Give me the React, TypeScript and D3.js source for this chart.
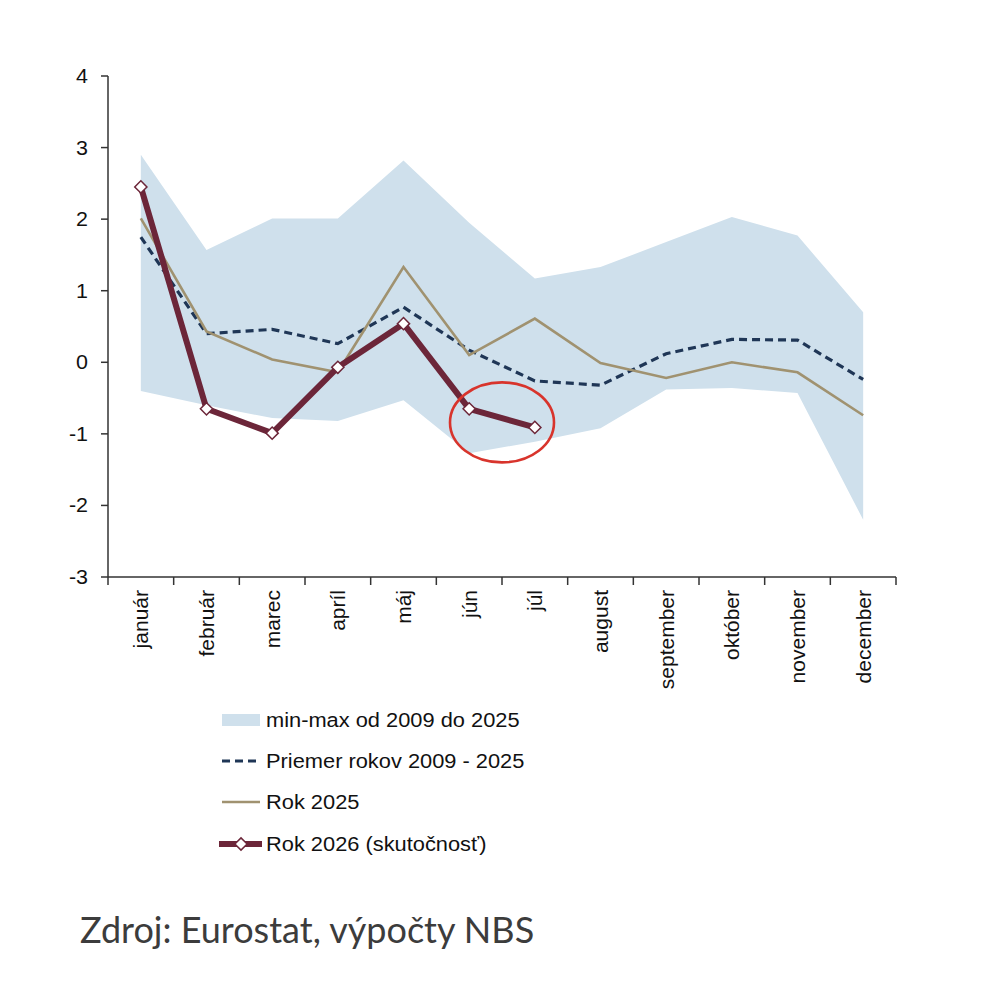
import * as d3 from 'd3'

const months = ['január', 'február', 'marec', 'apríl', 'máj', 'jún', 'júl', 'august', 'september', 'október', 'november', 'december']
const bandMax = [2.9, 1.57, 2.01, 2.01, 2.82, 1.95, 1.17, 1.33, 1.68, 2.03, 1.77, 0.7]
const bandMin = [-0.4, -0.6, -0.78, -0.82, -0.53, -1.27, -1.11, -0.92, -0.38, -0.36, -0.43, -2.2]
const average = [1.75, 0.4, 0.46, 0.26, 0.77, 0.17, -0.26, -0.32, 0.12, 0.32, 0.31, -0.24]
const year2025 = [2.01, 0.43, 0.04, -0.14, 1.33, 0.1, 0.61, -0.01, -0.22, 0.0, -0.14, -0.74]
const year2026 = [2.45, -0.65, -0.99, -0.07, 0.54, -0.65, -0.91]
const yTicks = [-3, -2, -1, 0, 1, 2, 3, 4]

const legendItems = ['min-max od 2009 do 2025', 'Priemer rokov 2009 - 2025', 'Rok 2025', 'Rok 2026 (skutočnosť)']

const C = {
  band: '#cfe0ec',
  avg: '#1f3656',
  y25: '#a09270',
  y26: '#6c2639',
  axis: '#333',
  ring: '#d8342c',
}

const FONT = 'Arial, "Liberation Sans", sans-serif'

export default function App() {
  const x = d3.scaleBand<string>().domain(months).range([108, 896])
  const y = d3.scaleLinear().domain([-3, 4]).range([577, 76])
  const cx = (m: string) => (x(m) ?? 0) + x.bandwidth() / 2

  const area = d3
    .area<number>()
    .x((_, i) => cx(months[i]))
    .y0((_, i) => y(bandMin[i]))
    .y1((d) => y(d))
  const line = d3
    .line<number>()
    .x((_, i) => cx(months[i]))
    .y((d) => y(d))

  const diamond = d3.symbol(d3.symbolDiamond2, 95)()

  // red ring around jún–júl
  const ringX = (cx('jún') + cx('júl')) / 2
  const ringY = y(-0.84)

  const legendY = [720, 761, 802, 844]

  return (
    <svg width={993} height={1000} style={{ position: 'absolute', left: 0, top: 0, background: '#fff' }} fontFamily={FONT}>
      <path d={area(bandMax) ?? ''} fill={C.band} />
      <path d={line(average) ?? ''} fill="none" stroke={C.avg} strokeWidth={3.2} strokeDasharray="8,5" />
      <path d={line(year2025) ?? ''} fill="none" stroke={C.y25} strokeWidth={2.6} />
      <path d={line(year2026) ?? ''} fill="none" stroke={C.y26} strokeWidth={6} strokeLinejoin="round" />
      {year2026.map((v, i) => (
        <path key={i} d={diamond ?? ''} transform={`translate(${cx(months[i])},${y(v)})`} fill="#fff" stroke={C.y26} strokeWidth={1.5} />
      ))}
      <ellipse cx={ringX} cy={ringY} rx={52} ry={40} fill="none" stroke={C.ring} strokeWidth={2.6} />

      {/* y axis */}
      <line x1={108} x2={108} y1={y(4)} y2={y(-3)} stroke={C.axis} strokeWidth={1.5} />
      {yTicks.map((t) => (
        <g key={t} transform={`translate(0,${y(t)})`}>
          <line x1={101} x2={108} stroke={C.axis} strokeWidth={1.5} />
          <text transform="translate(88,0) scale(1.1,1)" textAnchor="end" dy="0.36em" fontSize={19.5} fill="#111">
            {t}
          </text>
        </g>
      ))}

      {/* x axis */}
      <line x1={108} x2={896} y1={y(-3)} y2={y(-3)} stroke={C.axis} strokeWidth={1.5} />
      {[...months.map((m) => x(m) ?? 0), 896].map((px, i) => (
        <line key={i} x1={px} x2={px} y1={y(-3)} y2={y(-3) + 8} stroke={C.axis} strokeWidth={1.5} />
      ))}
      {months.map((m) => (
        <text key={m} transform={`translate(${cx(m)},590) rotate(-90)`} textAnchor="end" dy="0.35em" fontSize={21} fill="#111">
          {m}
        </text>
      ))}

      {/* legend */}
      <rect x={222} y={legendY[0] - 6} width={38} height={12} fill={C.band} />
      <line x1={222} x2={260} y1={legendY[1]} y2={legendY[1]} stroke={C.avg} strokeWidth={3.2} strokeDasharray="8,5" />
      <line x1={222} x2={260} y1={legendY[2]} y2={legendY[2]} stroke={C.y25} strokeWidth={2.6} />
      <line x1={219} x2={262} y1={legendY[3]} y2={legendY[3]} stroke={C.y26} strokeWidth={6} />
      <path d={diamond ?? ''} transform={`translate(241,${legendY[3]})`} fill="#fff" stroke={C.y26} strokeWidth={1.5} />
      {legendItems.map((t, i) => (
        <text key={t} transform={`translate(266,${legendY[i]}) scale(1.12,1)`} dy="0.36em" fontSize={19.5} fill="#111">
          {t}
        </text>
      ))}

      <text x={80} y={943} fontFamily="Lato, 'Open Sans', sans-serif" fontSize={36} fill="#3c3c3c">
        Zdroj: Eurostat, výpočty NBS
      </text>
    </svg>
  )
}
